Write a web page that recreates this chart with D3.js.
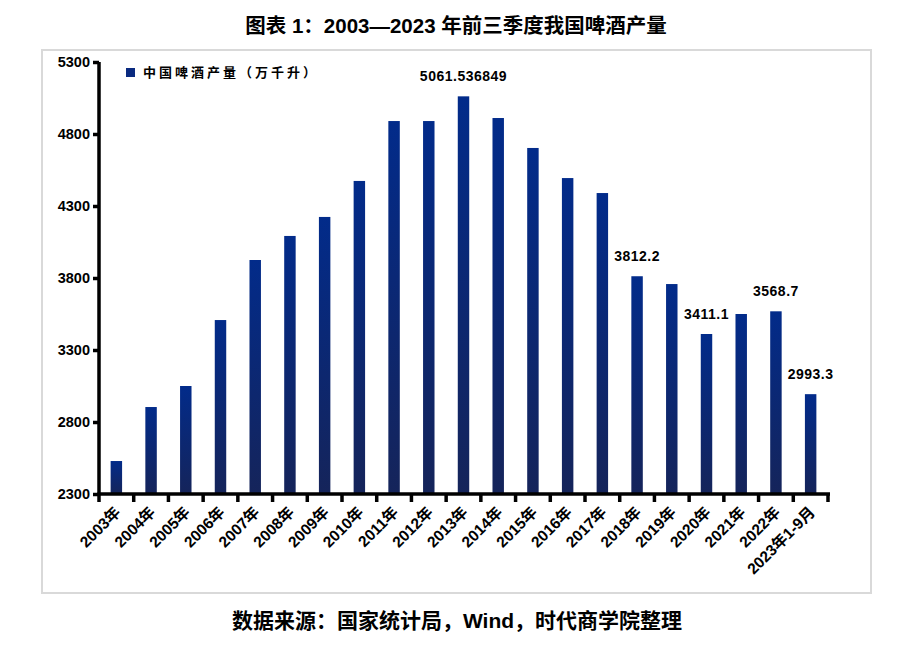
<!DOCTYPE html>
<html lang="zh">
<head>
<meta charset="UTF-8">
<script src="https://d3js.org/d3.v7.min.js"></script>
<title>啤酒产量</title>
<style>
  body { margin: 0; background: #fff; }
  text { font-family: "Liberation Sans", "Noto Sans CJK SC", sans-serif; }
</style>
</head>
<body>
<svg id="chart" width="915" height="645"></svg>
<script>
// categories and values (万千升)
var years = ["2003年","2004年","2005年","2006年","2007年","2008年","2009年","2010年","2011年","2012年",
             "2013年","2014年","2015年","2016年","2017年","2018年","2019年","2020年","2021年","2022年","2023年1-9月"];
var output = [2529, 2904, 3050, 3508, 3925, 4092, 4224, 4474, 4890, 4890,
              5061.536849, 4911, 4703, 4494, 4390, 3812.2, 3758, 3411.1, 3550, 3568.7, 2993.3];
var yTicks = [2300, 2800, 3300, 3800, 4300, 4800, 5300];
var labelled = {10: "5061.536849", 15: "3812.2", 17: "3411.1", 19: "3568.7", 20: "2993.3"};

var svg = d3.select("#chart");

// outer frame
svg.append("rect")
    .attr("x", 42).attr("y", 50).attr("width", 829).attr("height", 543)
    .attr("fill", "none").attr("stroke", "#d9d9d9").attr("stroke-width", 2);

// title and source
svg.append("text")
    .attr("x", 456).attr("y", 33).attr("text-anchor", "middle")
    .attr("font-size", 20.5).attr("font-weight", "bold")
    .text("图表 1：2003—2023 年前三季度我国啤酒产量");
svg.append("text")
    .attr("x", 457).attr("y", 628).attr("text-anchor", "middle")
    .attr("font-size", 21).attr("font-weight", "bold")
    .text("数据来源：国家统计局，Wind，时代商学院整理");

var x = d3.scaleBand().domain(years).range([99, 828]).paddingInner(0.67).paddingOuter(0.335);
var y = d3.scaleLinear().domain([2300, 5300]).range([494, 62]);

// gradient for bars
var grad = svg.append("defs").append("linearGradient")
    .attr("id", "barGrad").attr("x1", 0).attr("y1", 0).attr("x2", 0).attr("y2", 1);
grad.append("stop").attr("offset", "0%").attr("stop-color", "#022b8a");
grad.append("stop").attr("offset", "100%").attr("stop-color", "#15245a");

svg.append("g").selectAll("rect")
    .data(output)
    .enter()
    .append("rect")
        .attr("x", function(d, i) { return x(years[i]); })
        .attr("y", function(d) { return y(d); })
        .attr("width", x.bandwidth())
        .attr("height", function(d) { return y(2300) - y(d); })
        .attr("fill", "url(#barGrad)");

// data labels
svg.append("g").selectAll("text")
    .data(Object.keys(labelled))
    .enter()
    .append("text")
        .attr("x", function(i) { return x(years[i]) + x.bandwidth() / 2; })
        .attr("y", function(i) { return y(output[i]) - 15; })
        .attr("text-anchor", "middle")
        .attr("font-size", 14).attr("font-weight", "bold")
        .attr("letter-spacing", 0.5)
        .text(function(i) { return labelled[i]; });

// y axis
var yAxis = svg.append("g")
    .attr("transform", "translate(99,0)")
    .call(d3.axisLeft(y).tickValues(yTicks).tickSize(6).tickPadding(3).tickFormat(d3.format("d")));
yAxis.select(".domain").attr("stroke-width", 3.5).attr("d", "M0,62V494");
yAxis.selectAll(".tick line").attr("stroke-width", 3.5);
yAxis.selectAll(".tick text")
    .attr("font-size", 14.5).attr("font-weight", "bold")
    .attr("font-family", "Liberation Sans").attr("fill", "#000");

// x axis
var xAxis = svg.append("g")
    .attr("transform", "translate(0,494)")
    .call(d3.axisBottom(x).tickSize(0).tickFormat(""));
xAxis.select(".domain").attr("stroke-width", 3.5).attr("d", "M97.5,0H830");

var step = x.step();
svg.append("g").selectAll("line")
    .data(d3.range(years.length + 1))
    .enter()
    .append("line")
        .attr("x1", function(i) { return 99 + i * step; })
        .attr("x2", function(i) { return 99 + i * step; })
        .attr("y1", 494).attr("y2", 502)
        .attr("stroke", "#000").attr("stroke-width", 3.5);

svg.append("g").selectAll("text")
    .data(years)
    .enter()
    .append("text")
        .attr("transform", function(d) {
            return "translate(" + (x(d) + x.bandwidth() / 2 - 3) + ",505) rotate(-45)";
        })
        .attr("text-anchor", "end")
        .attr("dy", "0.75em")
        .attr("font-size", 15.5).attr("font-weight", "bold")
        .text(function(d) { return d; });

// legend
svg.append("rect")
    .attr("x", 126).attr("y", 68).attr("width", 9).attr("height", 9)
    .attr("fill", "#0a2a80");
svg.append("text")
    .attr("x", 143).attr("y", 77)
    .attr("font-size", 13).attr("font-weight", "bold")
    .attr("letter-spacing", 3)
    .attr("font-family", "Noto Sans CJK SC")
    .text("中国啤酒产量（万千升）");
</script>
</body>
</html>
